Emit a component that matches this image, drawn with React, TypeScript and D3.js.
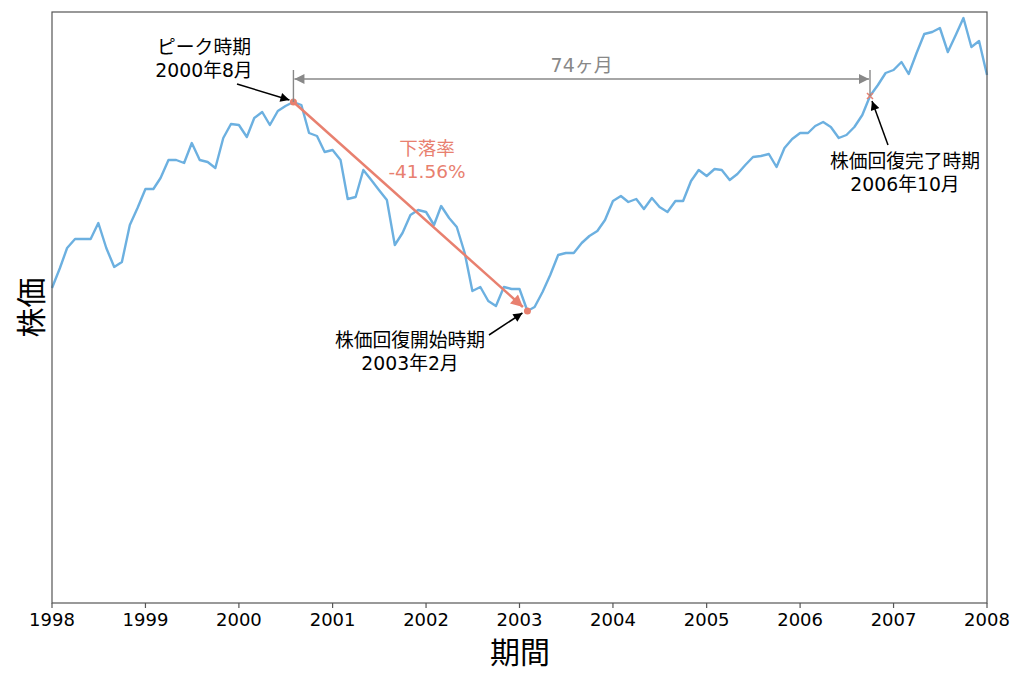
import React from "react";
import * as d3 from "d3";

// Monthly closing index (arbitrary units), Jan 1998 .. Jan 2008
const startYear = 1998;
const prices: number[] = [
  315, 335, 355, 364, 364, 364, 380, 355, 336, 341, 378, 395,
  414, 414, 425, 443, 443, 440, 460, 443, 441, 435, 465, 479,
  478, 466, 485, 491, 478, 492, 497, 501, 498, 470, 467, 451,
  453, 443, 404, 406, 433, 423, 413, 403, 358, 370, 388, 393,
  391, 378, 397, 385, 376, 350, 312, 316, 302, 297, 316, 314,
  314, 292, 296, 311, 328, 348, 350, 350, 360, 367, 372, 383,
  402, 407, 401, 404, 394, 405, 396, 391, 402, 402, 422, 433,
  427, 434, 433, 423, 429, 438, 446, 447, 449, 436, 455, 464,
  470, 470, 477, 481, 476, 465, 468, 476, 488, 507, 518, 530,
  533, 541, 529, 550, 569, 571, 575, 551, 568, 585, 556, 562,
  528,
];
const yearTicks: number[] = [1998, 1999, 2000, 2001, 2002, 2003, 2004, 2005, 2006, 2007, 2008];

const peakIndex = 31; // 2000-08
const troughIndex = 61; // 2003-02
const recoveryIndex = 105; // 2006-10

const peakLabel = ["ピーク時期", "2000年8月"];
const troughLabel = ["株価回復開始時期", "2003年2月"];
const recoveryLabel = ["株価回復完了時期", "2006年10月"];
const dropLabel = ["下落率", "-41.56%"];
const durationLabel = `${recoveryIndex - peakIndex}ヶ月`;
const xTitle = "期間";
const yTitle = "株価";

const W = 1024;
const H = 683;
const M = { left: 52, right: 987, top: 12, bottom: 603 };

const BLUE = "#6cb0e0";
const SALMON = "#e8806f";
const GRAY = "#888888";
const FONT = "'DejaVu Sans', 'Noto Sans CJK JP', sans-serif";

export default function App() {
  const dates = prices.map((_, i) => new Date(startYear, i, 1));
  const x = d3
    .scaleTime()
    .domain([new Date(startYear, 0, 1), new Date(2008, 0, 1)])
    .range([M.left, M.right]);
  const y = d3.scaleLinear().domain([0, 591]).range([M.bottom, M.top]);

  const line = d3
    .line<number>()
    .x((_, i) => x(dates[i]))
    .y((d) => y(d));

  const px = (i: number) => x(dates[i]);
  const py = (i: number) => y(prices[i]);

  const pk = { x: px(peakIndex), y: py(peakIndex) };
  const tr = { x: px(troughIndex), y: py(troughIndex) };
  const rc = { x: px(recoveryIndex), y: py(recoveryIndex) };

  const dx = tr.x - pk.x;
  const dy = tr.y - pk.y;
  const len = Math.hypot(dx, dy);
  const endX = tr.x - (dx / len) * 6;
  const endY = tr.y - (dy / len) * 6;

  const bracketY = 79;

  return (
    <svg
      width={W}
      height={H}
      style={{ position: "absolute", left: 0, top: 0, background: "#fff" }}
      fontFamily={FONT}
    >
      <defs>
        <marker id="headBlack" viewBox="0 0 10 10" refX="10" refY="5" markerWidth="12" markerHeight="9" markerUnits="userSpaceOnUse" orient="auto">
          <path d="M0,0 L10,5 L0,10 z" fill="#000" />
        </marker>
        <marker id="headSalmon" viewBox="0 0 10 10" refX="10" refY="5" markerWidth="16" markerHeight="12" markerUnits="userSpaceOnUse" orient="auto">
          <path d="M0,0 L10,5 L0,10 z" fill={SALMON} />
        </marker>
        <marker id="headGray" viewBox="0 0 10 10" refX="10" refY="5" markerWidth="14" markerHeight="10" markerUnits="userSpaceOnUse" orient="auto-start-reverse">
          <path d="M0,0 L10,5 L0,10 z" fill={GRAY} />
        </marker>
      </defs>

      <rect x={0} y={0} width={W} height={H} fill="#fff" />

      {/* price line */}
      <path d={line(prices) ?? ""} fill="none" stroke={BLUE} strokeWidth={2.4} strokeLinejoin="round" />

      {/* drop arrow */}
      <line x1={pk.x} y1={pk.y} x2={endX} y2={endY} stroke={SALMON} strokeWidth={2.5} markerEnd="url(#headSalmon)" />
      <circle cx={pk.x} cy={pk.y} r={3.5} fill={SALMON} />
      <circle cx={tr.x} cy={tr.y} r={3.5} fill={SALMON} />
      <g stroke={SALMON} strokeWidth={1.5}>
        <line x1={rc.x - 3} y1={rc.y - 3} x2={rc.x + 3} y2={rc.y + 3} />
        <line x1={rc.x - 3} y1={rc.y + 3} x2={rc.x + 3} y2={rc.y - 3} />
      </g>
      <g fill={SALMON} fontSize={18.5} textAnchor="middle">
        <text x={427} y={155}>{dropLabel[0]}</text>
        <text x={427} y={178}>{dropLabel[1]}</text>
      </g>

      {/* duration bracket */}
      <g stroke={GRAY} strokeWidth={1.4}>
        <line x1={pk.x} y1={70} x2={pk.x} y2={pk.y} />
        <line x1={rc.x} y1={70} x2={rc.x} y2={rc.y} />
        <line x1={pk.x + 1} y1={bracketY} x2={rc.x - 1} y2={bracketY} markerStart="url(#headGray)" markerEnd="url(#headGray)" />
      </g>
      <text x={(pk.x + rc.x) / 2} y={72} fill={GRAY} fontSize={19} textAnchor="middle">{durationLabel}</text>

      {/* annotations */}
      <g fontSize={18.8} textAnchor="middle" fill="#000">
        <text x={204} y={54}>{peakLabel[0]}</text>
        <text x={204} y={77}>{peakLabel[1]}</text>
        <text x={410} y={347}>{troughLabel[0]}</text>
        <text x={410} y={370}>{troughLabel[1]}</text>
        <text x={905} y={168}>{recoveryLabel[0]}</text>
        <text x={905} y={191}>{recoveryLabel[1]}</text>
      </g>
      <g stroke="#000" strokeWidth={1.5}>
        <line x1={237} y1={84} x2={pk.x - 4} y2={pk.y - 2} markerEnd="url(#headBlack)" />
        <line x1={489} y1={335} x2={tr.x - 5} y2={tr.y + 2} markerEnd="url(#headBlack)" />
        <line x1={888} y1={145} x2={rc.x + 2} y2={rc.y + 5} markerEnd="url(#headBlack)" />
      </g>

      {/* frame */}
      <rect x={M.left} y={M.top} width={M.right - M.left} height={M.bottom - M.top} fill="none" stroke="#555" strokeWidth={1.2} />

      {/* x axis ticks */}
      <g>
        {yearTicks.map((yr) => {
          const tx = x(new Date(yr, 0, 1));
          return (
            <g key={yr}>
              <line x1={tx} y1={M.bottom} x2={tx} y2={M.bottom + 5} stroke="#555" strokeWidth={1.2} />
              <text x={tx} y={626} fontSize={18} textAnchor="middle" fill="#000">{yr}</text>
            </g>
          );
        })}
      </g>

      <text x={520} y={663} fontSize={30} textAnchor="middle" fill="#000">{xTitle}</text>
      <text transform={`translate(42, ${(M.top + M.bottom) / 2}) rotate(-90)`} fontSize={30} textAnchor="middle" fill="#000">{yTitle}</text>
    </svg>
  );
}
